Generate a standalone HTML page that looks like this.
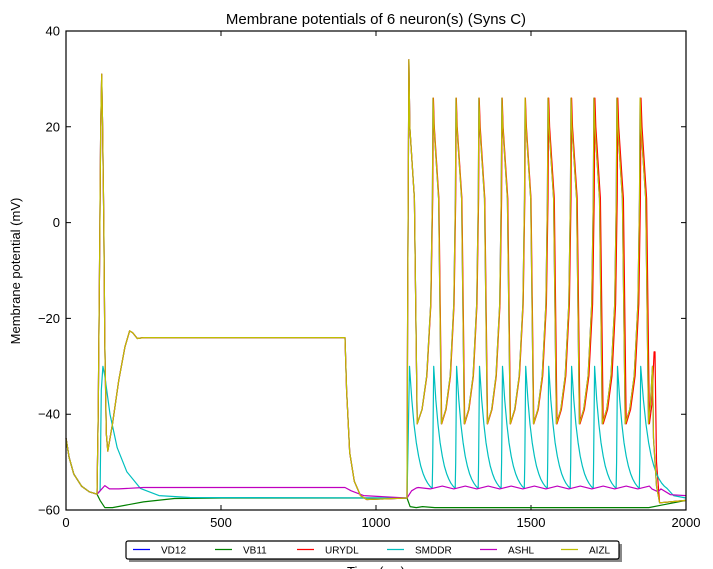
<!DOCTYPE html>
<html><head><meta charset="utf-8"><style>
body{margin:0;background:#fff;}
svg{display:block;font-family:"Liberation Sans","DejaVu Sans",sans-serif;}
</style></head><body>
<svg id="chart" width="713" height="569" viewBox="0 0 713 569">
<rect width="713" height="569" fill="#fff"/>
<text x="376" y="24" text-anchor="middle" font-size="15">Membrane potentials of 6 neuron(s) (Syns C)</text>
<text x="376" y="576" text-anchor="middle" font-size="13">Time (ms)</text>
<text transform="translate(20,271) rotate(-90)" text-anchor="middle" font-size="13">Membrane potential (mV)</text>
<g id="ticks"></g>
<g id="series"></g>
<rect x="66" y="31" width="620" height="479" fill="none" stroke="#000" stroke-width="1.2"/>
<g id="legend">
<rect x="129" y="544" width="493" height="18" fill="#888"/>
<rect x="126" y="541" width="493" height="18" fill="#fff" stroke="#000" stroke-width="1.2" rx="2"/>
</g>
</svg>
<script>
const xTicks=[0,500,1000,1500,2000];
const yTicks=[-60,-40,-20,0,20,40];
const seriesNames=["VD12","VB11","URYDL","SMDDR","ASHL","AIZL"];
const seriesColors=["#0000ff","#008000","#ff0000","#00bfbf","#bf00bf","#bfbf00"];
// spike train data (ms) and peak voltages (mV)
const spikeTimes=[1106,1184,1258,1332,1406,1481,1555,1629,1703,1777,1852];
const spikePeaks=[34,26,26,26,26,26,26,26,26,26,26];
const redSpikeTimes=[1106,1185,1259,1333,1407,1482,1557,1631,1706,1780,1855];
const smddrPeaks=[-30,-30,-30,-30,-30,-30,-30,-30,-30,-30,-30];
const ashlBumps=[-55.3,-55,-55,-55,-55,-55,-55,-55,-55,-55,-55];
// early response traces [t, v]
const mainEarly=[[0,-45],[10,-49],[25,-52.5],[50,-55],[75,-56.2],[100,-56.7],[104,-40],[108,-10],[112,20],[115,31],[118,20],[122,0],[125,-25],[130,-44],[135,-47.7],[150,-42],[170,-33],[190,-26],[205,-22.6],[215,-23],[230,-24.2],[250,-24],[900,-24],[905,-35],[915,-48],[930,-54],[950,-57],[970,-57.8],[1100,-57.5]];
const smddrEarly=[[0,-45],[10,-49],[25,-52.5],[50,-55],[75,-56.2],[100,-56.7],[110,-56],[114,-35],[119,-30],[125,-32],[142,-40],[165,-47],[196,-52],[240,-55.5],[300,-57],[400,-57.4],[1100,-57.5]];
const vb11Trace=[[0,-45],[10,-49],[25,-52.5],[50,-55],[75,-56.2],[100,-56.7],[110,-58],[125,-59.5],[150,-59.5],[250,-58.3],[350,-57.6],[500,-57.5],[1100,-57.5],[1110,-59.3],[1130,-59.5],[1150,-59.3],[1190,-59.5],[1880,-59.5],[1920,-59],[2000,-58]];
const ashlEarly=[[0,-45],[10,-49],[25,-52.5],[50,-55],[75,-56.2],[100,-56.7],[110,-56],[125,-54.9],[140,-55.6],[170,-55.6],[250,-55.3],[900,-55.3],[920,-56],[960,-57],[1100,-57.5],[1115,-56],[1130,-55.4]];
const ashlTail=[[1890,-55.6],[1910,-56.2],[1950,-56.8],[2000,-57]];
const mainTail=[[1895,-45],[1905,-55],[1915,-58.5],[2000,-58]];

const X0=66,X1=686,Y0=510,Y1=31;
const xs=t=>X0+(t/2000)*(X1-X0);
const ys=v=>Y0-((v+60)/100)*(Y0-Y1);
const NS="http://www.w3.org/2000/svg";
const tg=document.getElementById('ticks');
xTicks.forEach(t=>{
  const x=xs(t);
  const l=document.createElementNS(NS,'path');
  l.setAttribute('d',`M${x},${Y0}v-5M${x},${Y1}v5`);l.setAttribute('stroke','#000');
  
  
  tg.appendChild(l);
  const tx=document.createElementNS(NS,'text');
  tx.setAttribute('x',x);tx.setAttribute('y',Y0+17);tx.setAttribute('text-anchor','middle');tx.setAttribute('font-size','13');
  tx.textContent=t;
  
  
  tg.appendChild(tx);
});
yTicks.forEach(v=>{
  const y=ys(v);
  const l=document.createElementNS(NS,'path');
  l.setAttribute('d',`M${X0},${y}h5M${X1},${y}h-5`);l.setAttribute('stroke','#000');
  
  
  tg.appendChild(l);
  const tx=document.createElementNS(NS,'text');
  tx.setAttribute('x',X0-6);tx.setAttribute('y',y+4.5);tx.setAttribute('text-anchor','end');tx.setAttribute('font-size','13');
  tx.textContent=v<0?'\u2212'+(-v):v;
  
  
  tg.appendChild(tx);
});
function spikeTrain(times,peaks){
  const pts=[[1100,-57.5],[1102,-20]];
  times.forEach((t,i)=>{
    pts.push([t,peaks[i]]);
    pts.push([t+3,20]);pts.push([t+18,5]);pts.push([t+27,-42]);
    const nt=i<times.length-1?times[i+1]:null;
    if(nt){const g=nt-t;const s=t+27;pts.push([s+(g-27)*0.3,-39]);pts.push([s+(g-27)*0.6,-32]);pts.push([s+(g-27)*0.85,-17]);pts.push([nt-2,5]);}
  });
  return pts;
}
function smddrTrain(times,peaks){
  const pts=[[1100,-57.5],[1104,-45],[times[0]+2,peaks[0]]];
  times.forEach((t,i)=>{
    const p=t+2;
    if(i>0){pts.push([p-3,-50]);pts.push([p,peaks[i]]);}
    const nt=i<times.length-1?times[i+1]+2:p+90;
    const g=nt-p;
    for(let k=1;k<=10;k++){const f=k/10;pts.push([p+g*f*0.94,-30-25.5*(1-Math.exp(-f*3))/(1-Math.exp(-3))]);}
  });
  pts.push([1960,-57]);pts.push([2000,-57.5]);
  return pts;
}
function ashlTrain(times,bumps){
  const pts=[];
  times.forEach((t,i)=>{
    const nt=i<times.length-1?times[i+1]:t+74;
    pts.push([t+30,bumps[i]]);pts.push([(t+nt)/2+30,-55.6]);
  });
  return pts;
}
const yelTrain=spikeTrain(spikeTimes,spikePeaks).concat([[1885,-38],[1892,-30]]).concat(mainTail);
const redTrain=spikeTrain(redSpikeTimes,spikePeaks).concat([[1890,-38],[1897,-27],[1900,-27],[1905,-50],[1915,-58.5],[2000,-58]]);
const traces=[
  mainEarly.concat(yelTrain),
  vb11Trace,
  mainEarly.concat(redTrain),
  smddrEarly.concat(smddrTrain(spikeTimes,smddrPeaks)),
  ashlEarly.concat(ashlTrain(spikeTimes,ashlBumps)).concat(ashlTail),
  mainEarly.concat(yelTrain)
];
const sg=document.getElementById('series');
traces.forEach((pts,i)=>{
  pts.sort((a,b)=>a[0]-b[0]);
  const p=document.createElementNS(NS,'path');
  p.setAttribute('d','M'+pts.map(q=>xs(q[0]).toFixed(1)+','+ys(q[1]).toFixed(1)).join('L'));
  p.setAttribute('fill','none');p.setAttribute('stroke',seriesColors[i]);p.setAttribute('stroke-width','1.2');
  p.setAttribute('stroke-linejoin','round');
  
  
  sg.appendChild(p);
});
const lg=document.getElementById('legend');
const lx=[133,215,297,387,480,561];
seriesNames.forEach((n,i)=>{
  const l=document.createElementNS(NS,'line');
  l.setAttribute('x1',lx[i]);l.setAttribute('x2',lx[i]+17);l.setAttribute('y1',549.5);l.setAttribute('y2',549.5);
  l.setAttribute('stroke',seriesColors[i]);l.setAttribute('stroke-width','1.2');
  
  
  lg.appendChild(l);
  const t=document.createElementNS(NS,'text');
  t.setAttribute('x',lx[i]+28);t.setAttribute('y',553.5);t.setAttribute('font-size','10');
  t.textContent=n;
  
  
  lg.appendChild(t);
});
</script>
</body></html>
